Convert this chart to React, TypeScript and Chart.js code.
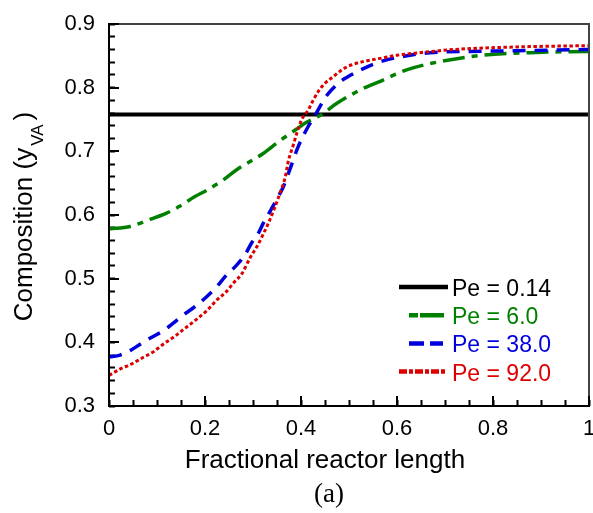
import React, { useEffect, useRef } from "react";
import { Chart, registerables } from "chart.js";

Chart.register(...registerables);

const SANS = "'Liberation Sans', Arial, sans-serif";
const SERIF = "'Liberation Serif', 'Times New Roman', serif";

const seriesLabels = ["Pe = 0.14", "Pe = 6.0", "Pe = 38.0", "Pe = 92.0"];
const seriesColors = ["#000000", "#008000", "#0000dd", "#dd0000"];

const xPe014 = [0, 1];
const yPe014 = [0.758, 0.758];

const xPe6 = [0, 0.044, 0.085, 0.12, 0.148, 0.179, 0.204, 0.238, 0.266, 0.294, 0.322, 0.353, 0.391, 0.408, 0.443, 0.474, 0.53, 0.565, 0.62, 0.69, 0.78, 0.877, 1.0];
const yPe6 = [0.578, 0.582, 0.593, 0.603, 0.614, 0.629, 0.639, 0.655, 0.671, 0.684, 0.697, 0.715, 0.735, 0.744, 0.758, 0.775, 0.799, 0.81, 0.828, 0.841, 0.851, 0.855, 0.857];

const xPe38 = [0, 0.023, 0.044, 0.065, 0.089, 0.113, 0.134, 0.155, 0.179, 0.204, 0.224, 0.245, 0.263, 0.283, 0.297, 0.311, 0.322, 0.335, 0.349, 0.363, 0.377, 0.394, 0.415, 0.426, 0.443, 0.454, 0.481, 0.495, 0.53, 0.571, 0.627, 0.669, 0.75, 0.85, 1.0];
const yPe38 = [0.377, 0.38, 0.387, 0.397, 0.408, 0.418, 0.43, 0.443, 0.456, 0.472, 0.487, 0.506, 0.519, 0.537, 0.556, 0.571, 0.588, 0.605, 0.624, 0.644, 0.672, 0.707, 0.739, 0.752, 0.775, 0.788, 0.809, 0.816, 0.83, 0.842, 0.851, 0.855, 0.857, 0.858, 0.86];

const xPe92 = [0, 0.023, 0.047, 0.068, 0.092, 0.113, 0.138, 0.158, 0.179, 0.204, 0.224, 0.245, 0.259, 0.277, 0.294, 0.308, 0.322, 0.332, 0.346, 0.356, 0.367, 0.374, 0.384, 0.391, 0.401, 0.415, 0.426, 0.436, 0.45, 0.467, 0.485, 0.506, 0.53, 0.565, 0.6, 0.648, 0.72, 0.85, 1.0];
const yPe92 = [0.348, 0.358, 0.366, 0.375, 0.385, 0.397, 0.41, 0.422, 0.434, 0.45, 0.466, 0.48, 0.493, 0.508, 0.533, 0.55, 0.571, 0.587, 0.613, 0.634, 0.659, 0.686, 0.71, 0.728, 0.749, 0.765, 0.781, 0.794, 0.807, 0.817, 0.828, 0.836, 0.841, 0.846, 0.851, 0.855, 0.86, 0.864, 0.866];

const xTickValues = [0, 0.2, 0.4, 0.6, 0.8, 1];
const xTickLabels = ["0", "0.2", "0.4", "0.6", "0.8", "1"];
const yTickValues = [0.3, 0.4, 0.5, 0.6, 0.7, 0.8, 0.9];
const yTickLabels = ["0.3", "0.4", "0.5", "0.6", "0.7", "0.8", "0.9"];
const xMinorTicks = [0, 0.05, 0.1, 0.15, 0.2, 0.25, 0.3, 0.35, 0.4, 0.45, 0.5, 0.55, 0.6, 0.65, 0.7, 0.75, 0.8, 0.85, 0.9, 0.95, 1];
const yMinorTicks = [0.3, 0.32, 0.34, 0.36, 0.38, 0.4, 0.42, 0.44, 0.46, 0.48, 0.5, 0.52, 0.54, 0.56, 0.58, 0.6, 0.62, 0.64, 0.66, 0.68, 0.7, 0.72, 0.74, 0.76, 0.78, 0.8, 0.82, 0.84, 0.86, 0.88, 0.9];

const xTitle = "Fractional reactor length";
const yTitleMain = "Composition (y";
const yTitleSub = "VA";
const yTitleEnd = ")";
const panelLabel = "(a)";

const lineWidths = [4, 3.5, 3.5, 3];
const lineDashes: number[][] = [[], [22, 7, 6, 7], [13, 9], [3.5, 2.5]];
const legendDashes: number[][] = [[], [9, 2, 24], [15, 6, 13], [8, 2, 4, 2]];
const legendLineX: [number, number][] = [[399, 448], [409, 444], [409, 444], [399, 447]];

const MINOR_LEN = 6;

function pts(xs: number[], ys: number[]) {
  return xs.map((x, i) => ({ x, y: ys[i] }));
}

function majorIndex(list: number[], v: number) {
  for (let k = 0; k < list.length; k++) {
    if (Math.abs(list[k] - v) < 1e-6) return k;
  }
  return -1;
}

const decorPlugin = {
  id: "decor",
  afterDraw(chart: any) {
    const ctx = chart.ctx;
    const a = chart.chartArea;
    const sx = chart.scales.x;
    const sy = chart.scales.y;
    ctx.save();
    ctx.setLineDash([]);
    ctx.lineCap = "butt";
    ctx.globalAlpha = 1;

    // frame: top/right grey, left/bottom black
    ctx.fillStyle = "#444444";
    ctx.fillRect(a.left - 1, a.top - 1, a.right - a.left + 2, 2);
    ctx.fillRect(a.right - 1, a.top - 1, 2, a.bottom - a.top + 2);
    ctx.fillStyle = "#000000";
    ctx.fillRect(a.left - 1, a.top - 1, 2, a.bottom - a.top + 2);
    ctx.fillRect(a.left - 1, a.bottom - 1, a.right - a.left + 2, 2);

    // longer major ticks (minor ones come from the scales' grid)
    for (let i = 0; i < xTickValues.length; i++) {
      const px = Math.round(sx.getPixelForValue(xTickValues[i]));
      ctx.fillRect(px - 1, a.bottom - 10, 2, 10);
    }
    for (let i = 0; i < yTickValues.length; i++) {
      const py = Math.round(sy.getPixelForValue(yTickValues[i]));
      ctx.fillRect(a.left, py - 1, 10, 2);
    }

    // legend
    chart.data.datasets.forEach((ds: any, i: number) => {
      const base = 296 + i * 28.2;
      const ly = base - 9;
      ctx.strokeStyle = ds.borderColor;
      ctx.lineWidth = 4.5;
      ctx.setLineDash(legendDashes[i]);
      ctx.beginPath();
      ctx.moveTo(legendLineX[i][0], ly);
      ctx.lineTo(legendLineX[i][1], ly);
      ctx.stroke();
      ctx.setLineDash([]);
      ctx.fillStyle = ds.borderColor;
      ctx.font = `23px ${SANS}`;
      ctx.textAlign = "left";
      ctx.textBaseline = "alphabetic";
      ctx.fillText(ds.label, 452, base);
    });

    // x title
    ctx.fillStyle = "#000000";
    ctx.font = `26px ${SANS}`;
    ctx.textAlign = "center";
    ctx.textBaseline = "alphabetic";
    ctx.fillText(xTitle, 325, 468);

    // panel label
    ctx.font = `27px ${SERIF}`;
    ctx.fillText(panelLabel, 329, 502);

    // y title with subscript
    ctx.save();
    ctx.translate(32, 216.5);
    ctx.rotate(-Math.PI / 2);
    ctx.textAlign = "left";
    ctx.font = `26px ${SANS}`;
    const w1 = ctx.measureText(yTitleMain).width;
    const w3 = ctx.measureText(yTitleEnd).width;
    ctx.font = `17px ${SANS}`;
    const w2 = ctx.measureText(yTitleSub).width;
    const gap1 = 2;
    const gap2 = 4;
    const total = w1 + gap1 + w2 + gap2 + w3;
    let cx = -total / 2;
    ctx.font = `26px ${SANS}`;
    ctx.fillText(yTitleMain, cx, 0);
    cx += w1 + gap1;
    ctx.font = `17px ${SANS}`;
    ctx.fillText(yTitleSub, cx, 11);
    cx += w2 + gap2;
    ctx.font = `26px ${SANS}`;
    ctx.fillText(yTitleEnd, cx, 0);
    ctx.restore();

    ctx.restore();
  },
};

export default function App() {
  const ref = useRef<HTMLCanvasElement | null>(null);
  useEffect(() => {
    if (!ref.current) return;
    const datasets = [
      pts(xPe014, yPe014),
      pts(xPe6, yPe6),
      pts(xPe38, yPe38),
      pts(xPe92, yPe92),
    ].map((data, i) => ({
      label: seriesLabels[i],
      data,
      borderColor: seriesColors[i],
      backgroundColor: seriesColors[i],
      borderWidth: lineWidths[i],
      borderDash: lineDashes[i],
      borderCapStyle: "butt" as const,
      pointRadius: 0,
      fill: false,
      cubicInterpolationMode: "monotone" as const,
      order: 4 - i,
    }));
    const chart = new Chart(ref.current, {
      type: "line",
      data: { datasets },
      options: {
        animation: false,
        responsive: false,
        devicePixelRatio: 1,
        layout: { padding: { left: 0, right: 4, top: 24, bottom: 0 } },
        plugins: {
          legend: { display: false },
          tooltip: { enabled: false },
        },
        scales: {
          x: {
            type: "linear",
            min: 0,
            max: 1,
            grid: {
              display: true,
              drawOnChartArea: false,
              drawTicks: true,
              tickLength: -MINOR_LEN,
              tickColor: "#000000",
              tickWidth: 2,
            },
            border: { display: false },
            afterBuildTicks: (scale: any) => {
              scale.ticks = xMinorTicks.map((v) => ({ value: v }));
            },
            afterFit: (scale: any) => {
              scale.height = 107;
              scale.paddingLeft = 0;
              scale.paddingRight = 0;
            },
            ticks: {
              color: "#000000",
              font: { family: SANS, size: 22 },
              padding: 10 + MINOR_LEN,
              maxRotation: 0,
              minRotation: 0,
              autoSkip: false,
              callback: (v: any) => {
                const k = majorIndex(xTickValues, Number(v));
                return k >= 0 ? xTickLabels[k] : "";
              },
            },
          },
          y: {
            type: "linear",
            min: 0.3,
            max: 0.9,
            grid: {
              display: true,
              drawOnChartArea: false,
              drawTicks: true,
              tickLength: -MINOR_LEN,
              tickColor: "#000000",
              tickWidth: 2,
            },
            border: { display: false },
            afterBuildTicks: (scale: any) => {
              scale.ticks = yMinorTicks.map((v) => ({ value: v }));
            },
            afterFit: (scale: any) => {
              scale.width = 109;
              scale.paddingTop = 0;
              scale.paddingBottom = 0;
            },
            ticks: {
              color: "#000000",
              font: { family: SANS, size: 22 },
              padding: 14 + MINOR_LEN,
              autoSkip: false,
              callback: (v: any) => {
                const k = majorIndex(yTickValues, Number(v));
                return k >= 0 ? yTickLabels[k] : "";
              },
            },
          },
        },
      },
      plugins: [decorPlugin],
    });
    return () => chart.destroy();
  }, []);
  return (
    <div style={{ position: "fixed", left: 0, top: 0, width: 593, height: 513, background: "#ffffff" }}>
      <canvas ref={ref} width={593} height={513} style={{ display: "block" }} />
    </div>
  );
}
